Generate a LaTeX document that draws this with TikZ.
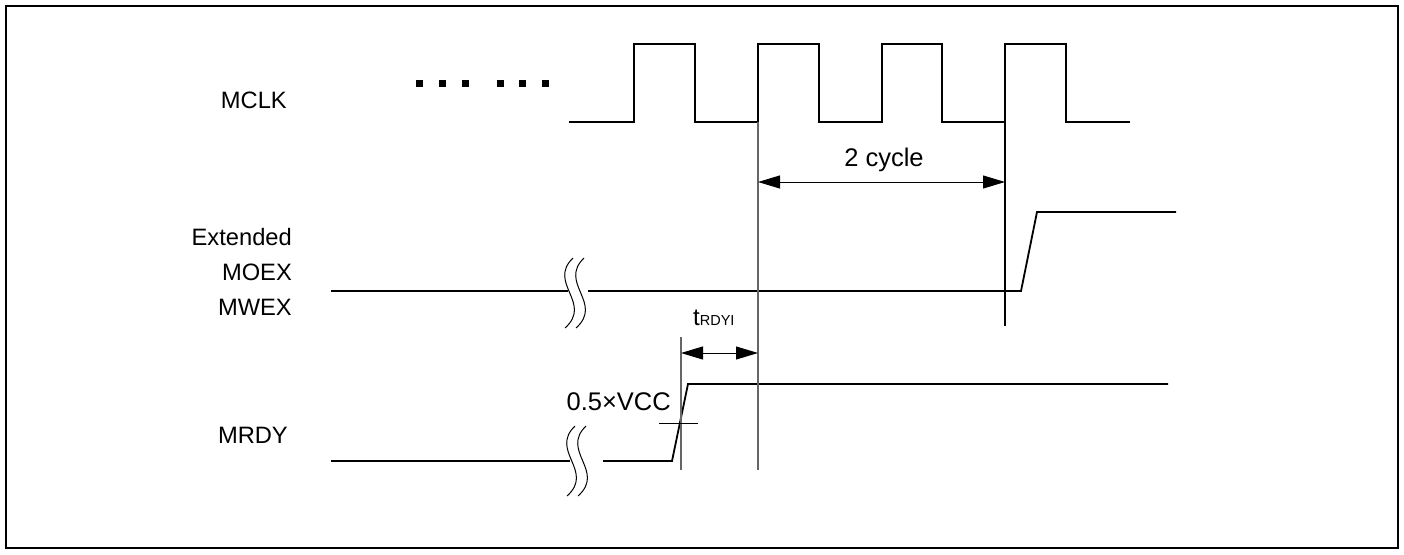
\documentclass[tikz,border=0pt]{standalone}
\usepackage{fontspec}
\setmainfont{Liberation Sans}
\usetikzlibrary{arrows.meta}
\tikzset{
  signal/.style={line width=1.8pt, line join=miter},
  guide/.style={line width=1.3pt, black!60},
  dimarrow/.style={line width=1pt,
    {Triangle[length=22pt,width=13pt]}-{Triangle[length=22pt,width=13pt]}},
  breakline/.style={line width=1pt},
  sig/.style={font=\fontsize{23.7}{28}\selectfont, inner sep=0pt}
}
% two wavy strokes that mark a cut in a signal
\newcommand{\sigcut}[2]{%
  \draw[breakline] (#1+8,#2) .. controls (#1-18,#2+25) and (#1+28,#2+45) .. (#1,#2+70);
  \draw[breakline] (#1+19,#2) .. controls (#1-7,#2+25) and (#1+39,#2+45) .. (#1+11,#2+70);
}
\begin{document}
\begin{tikzpicture}[x=1pt,y=-1pt]
	\useasboundingbox (0,0) rectangle (1404,554);
	\draw[line width=2pt] (6,6) rectangle (1398,548);
	%
	\node[sig, anchor=base east] (mclk) at (287,108) {MCLK};
	\node[sig, anchor=base east] (ext) at (292,245) {Extended};
	\node[sig, anchor=base east] (moex) at (292,280) {MOEX};
	\node[sig, anchor=base east] (mwex) at (292,315) {MWEX};
	\node[sig, anchor=base east] (mrdy) at (288,443) {MRDY};
	%
	\foreach \x in {419,442,465,500,522,545}
		\fill (\x-3.5,79.5) rectangle (\x+3.5,86.5);
	\draw[signal] (569,122) -- (634,122) -- (634,44) -- (695,44) -- (695,122)
		-- (758,122) -- (758,44) -- (819,44) -- (819,122)
		-- (882,122) -- (882,44) -- (942,44) -- (942,122)
		-- (1005,122) -- (1005,44) -- (1066,44) -- (1066,122) -- (1130,122);
	%
	\draw[signal] (331,291) -- (568,291);
	\draw[signal] (588,291) -- (1021,291) -- (1037,212) -- (1176,212);
	\sigcut{565}{258}
	%
	\draw[signal] (331,461) -- (570,461);
	\draw[signal] (603,461) -- (672,461) -- (688,384) -- (1168,384);
	\sigcut{567}{426}
	%
	\coordinate (c0) at (758,122);
	\coordinate (c1) at (1005,44);
	\coordinate (r0) at (681,337);
	\draw[guide] (c0) -- (758,470);
	\draw[line width=1.3pt] (c1) -- (1005,326);
	\draw[guide] (r0) -- (681,470);
	\draw[line width=1pt] (659,423) -- (698,423);
	%
	\coordinate (a0) at (758,182);
	\coordinate (a1) at (1005,182);
	\draw[dimarrow] (a0) -- (a1);
	\node[sig, font=\fontsize{25.5}{30}\selectfont, anchor=base] (cyc) at (884,166) {2 cycle};
	\coordinate (b0) at (681,353);
	\coordinate (b1) at (758,353);
	\draw[dimarrow] (b0) -- (b1);
	\node[sig, font=\fontsize{24}{28}\selectfont, anchor=base west] (trdyi) at (693,325)
		{t{\fontsize{14.5}{17}\selectfont RDYI}};
	\node[sig, font=\fontsize{25.5}{30}\selectfont, anchor=base east] (vcc) at (671,410) {0.5×VCC};
\end{tikzpicture}
\end{document}
